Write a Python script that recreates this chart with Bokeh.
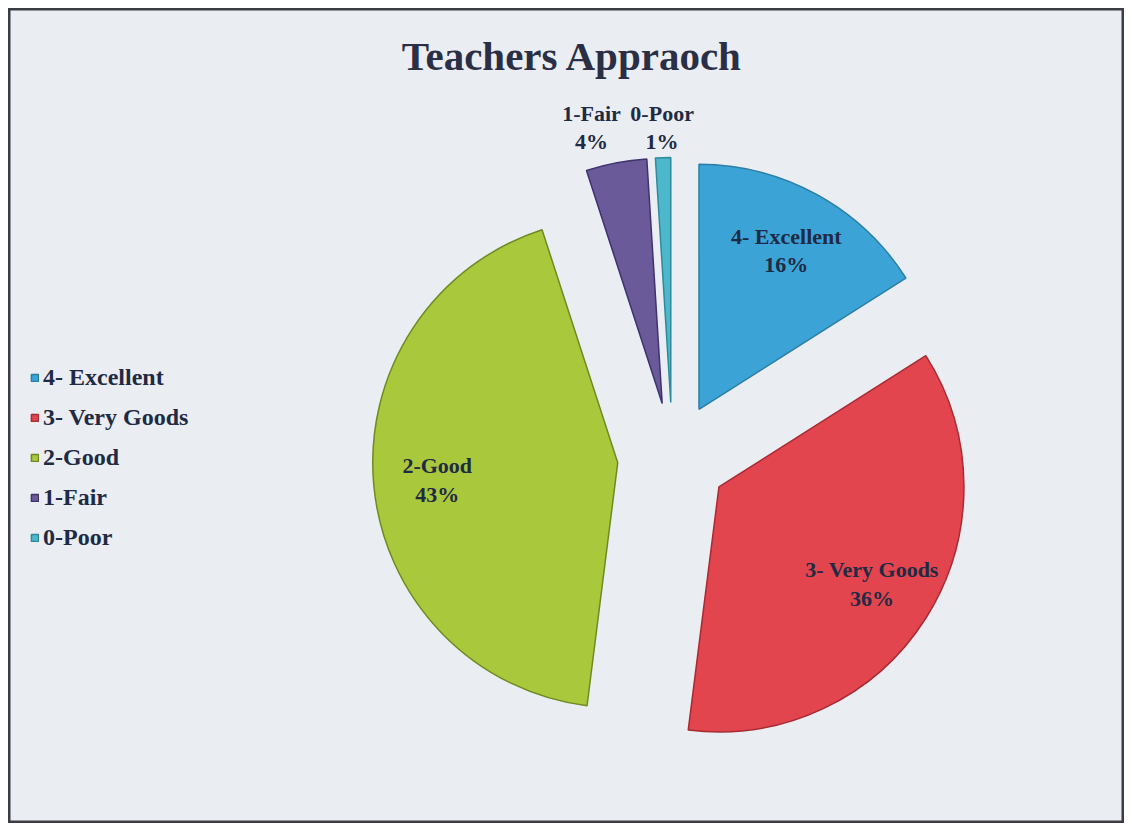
import math
from bokeh.plotting import figure
from bokeh.models import ColumnDataSource, Legend, LegendItem
from bokeh.core.properties import value
from bokeh.embed import file_html
from bokeh.resources import INLINE

# ---- data ----
categories = ["4- Excellent", "3- Very Goods", "2-Good", "1-Fair", "0-Poor"]
percents = [16, 36, 43, 4, 1]
colors = ["#3ba3d6", "#e2454e", "#a9c83c", "#6a5a9a", "#4db8cb"]
edge_colors = ["#2a7ea8", "#a82a33", "#6f8a22", "#3e3270", "#2f8a9c"]
title_text = "Teachers Appraoch"

W, H = 1116, 815
CX, CY = 664, 366       # pie centre (frame units = px)
R = 245                 # radius
EXPLODE = 55            # explosion distance
LABEL_Y_OUT = 696       # baseline height for labels of small slices

total = float(sum(percents))
starts, ends, xs, ys, lx, ly, labels, xoff = [], [], [], [], [], [], [], []
cum = 0.0
for cat, v in zip(categories, percents):
    a0 = cum / total * 2 * math.pi          # clockwise from 12 o'clock
    a1 = (cum + v) / total * 2 * math.pi
    mid = (a0 + a1) / 2
    dx, dy = math.sin(mid), math.cos(mid)
    xs.append(CX + EXPLODE * dx)
    ys.append(CY + EXPLODE * dy)
    starts.append(math.pi / 2 - a0)
    ends.append(math.pi / 2 - a1)
    if v >= 10:
        d = EXPLODE + 0.74 * R
        lx.append(CX + d * dx)
        ly.append(CY + d * dy)
        xoff.append(0)
    else:
        d = (LABEL_Y_OUT - CY) / dy
        lx.append(CX + d * dx)
        ly.append(LABEL_Y_OUT)
        xoff.append(-18 if v > 2 else 0)
    labels.append(f"{cat}\n{v}%")
    cum += v

src = ColumnDataSource(dict(x=xs, y=ys, start=starts, end=ends, color=colors,
                            edge=edge_colors, cat=categories))
lab = ColumnDataSource(dict(x=lx, y=ly, text=labels, xoff=xoff))

p = figure(width=W, height=H, x_range=(0, W), y_range=(0, H),
           output_backend="svg", toolbar_location=None, min_border=0)
p.margin = (8, 8, 8, 8)
p.axis.visible = False
p.grid.visible = False
p.background_fill_color = "#eaedf2"
p.border_fill_color = "#eaedf2"
p.outline_line_color = "#3c3c44"
p.outline_line_width = 4

r = p.wedge(x="x", y="y", radius=R, start_angle="start", end_angle="end",
            direction="clock", fill_color="color", line_color="edge",
            line_width=1.5, source=src)

p.text(x="x", y="y", text="text", source=lab, x_offset="xoff",
       text_align="center", text_baseline="middle",
       text_font=value("Liberation Serif"), text_font_style="bold",
       text_font_size="22px", text_color="#1f2a44", text_line_height=1.15)

p.text(x=[W / 2 + 6], y=[H - 47], text=[title_text], text_align="center",
       text_baseline="middle", text_font=value("Liberation Serif"),
       text_font_style="bold", text_font_size="41px", text_color="#2b2f45")

items = [LegendItem(label=c, renderers=[r], index=i) for i, c in enumerate(categories)]
legend = Legend(items=items, location=(22, 272), orientation="vertical",
                label_text_font="Liberation Serif", label_text_font_style="bold",
                label_text_font_size="24px", label_text_color="#1f2a44",
                glyph_width=9, glyph_height=9, label_standoff=4, spacing=13,
                label_height=24, padding=0, margin=0,
                background_fill_alpha=0, border_line_alpha=0)
p.add_layout(legend, "center")

open("out.html", "w").write(file_html(p, INLINE))
